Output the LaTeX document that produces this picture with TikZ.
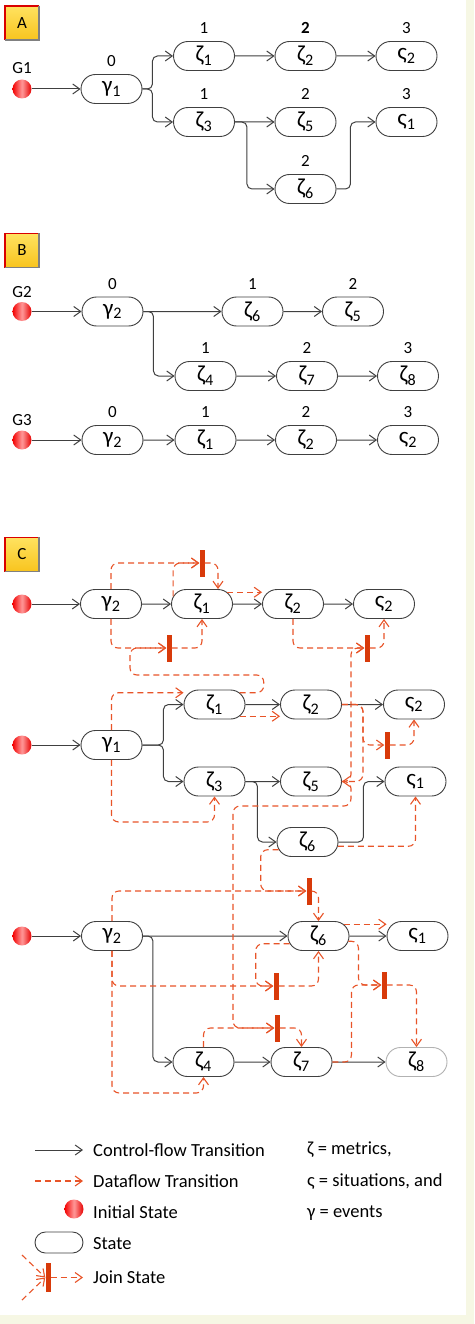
\documentclass[tikz,border=0pt]{standalone}
\usepackage{fontspec}
\setmainfont{Carlito}
\usetikzlibrary{arrows.meta,shapes.misc}

\definecolor{dfcol}{RGB}{232,84,40}
\definecolor{joincol}{RGB}{216,58,10}
\definecolor{framecol}{RGB}{246,247,228}
\definecolor{linecol}{RGB}{64,64,64}

\newcommand{\metr}[1]{ζ\textsubscript{#1}}
\newcommand{\situ}[1]{ς\textsubscript{#1}}
\newcommand{\evnt}[1]{γ\textsubscript{#1}}

\tikzset{
  statebox/.style={rounded rectangle, draw=black!75, line width=0.9pt, fill=white,
    minimum width=61pt, minimum height=29pt, inner sep=0pt, font=\fontsize{23}{24}\selectfont},
  initdot/.style={circle, minimum size=19pt, inner sep=0pt,
    left color=red!95!black, right color=red!90!black, middle color=red!40!white},
  lvl/.style={inner sep=0pt, font=\fontsize{17}{18}\selectfont},
  legtext/.style={anchor=west, inner sep=0pt, font=\fontsize{18.5}{20}\selectfont},
  cflow/.style={draw=linecol, line width=1pt, -{Straight Barb[length=7pt,width=10pt]}, rounded corners=5pt},
  dflow/.style={draw=dfcol, line width=1.1pt, dash pattern=on 6pt off 4pt,
    -{Straight Barb[length=7pt,width=10pt]}, rounded corners=7pt},
  joinbar/.style={rectangle, fill=joincol, minimum width=5pt, minimum height=27pt, inner sep=0pt},
  badge/.style={rectangle, minimum size=34pt, inner sep=0pt,
    top color={rgb,255:red,255;green,226;blue,96}, bottom color={rgb,255:red,248;green,196;blue,30},
    font=\fontsize{17}{18}\selectfont}
}

\begin{document}
\begin{tikzpicture}[x=1pt,y=-1pt,label distance=7pt]
  \useasboundingbox (0,0) rectangle (474,1324);
  \fill[framecol] (0,0) rectangle (474,1324);
  \fill[white] (0,0) rectangle (466,1315);

  % Etichette dei pannelli
  \foreach \lt/\yy in {A/23,B/250.5,C/554.5}{
    \node[badge] (badge\lt) at (22,\yy) {\lt};
    \draw[red!85!black,line width=1.5pt] (badge\lt.south west) -- (badge\lt.north west) -- (badge\lt.north east);
    \draw[gray,line width=1.5pt] (badge\lt.north east) -- (badge\lt.south east) -- (badge\lt.south west);
  }

  % Pannello A: G1
  \node[lvl] (g1name) at (22,68) {G1};
  \node[initdot] (a0) at (22,89) {};
  \node[statebox,label={[lvl]above:0}] (ag) at (111.5,89) {\evnt{1}};
  \node[statebox,label={[lvl]above:1}] (az1) at (204,56) {\metr{1}};
  \node[statebox,label={[lvl,font=\fontsize{17}{18}\selectfont\bfseries]above:2}] (az2) at (305.5,56) {\metr{2}};
  \node[statebox,label={[lvl]above:3}] (as2) at (406.5,56) {\situ{2}};
  \node[statebox,label={[lvl]above:1}] (az3) at (204,122) {\metr{3}};
  \node[statebox,label={[lvl]above:2}] (az5) at (305.5,122) {\metr{5}};
  \node[statebox,label={[lvl]above:3}] (as1) at (406.5,122) {\situ{1}};
  \node[statebox,label={[lvl]above:2}] (az6) at (305.5,189) {\metr{6}};

  \draw[cflow] (a0) -- (ag);
  \draw[cflow] (ag.east) -- ++(10,0) |- (az1.west);
  \draw[cflow] (ag.east) -- ++(10,0) |- (az3.west);
  \draw[cflow] (az1) -- (az2);
  \draw[cflow] (az2) -- (as2);
  \draw[cflow] (az3) -- (az5);
  \draw[cflow] (az3.east) -- ++(12,0) |- (az6.west);
  \draw[cflow] (az6.east) -- ++(14,0) |- (as1.west);

  % Pannello B: G2 e G3
  \node[lvl] (g2name) at (22,292) {G2};
  \node[initdot] (b0) at (22,311.5) {};
  \node[statebox,label={[lvl]above:0}] (bg) at (112.5,311.5) {\evnt{2}};
  \node[statebox,label={[lvl]above:1}] (bz6) at (252.5,311.5) {\metr{6}};
  \node[statebox,label={[lvl]above:2}] (bz5) at (353,311.5) {\metr{5}};
  \node[statebox,label={[lvl]above:1}] (bz4) at (205.5,376) {\metr{4}};
  \node[statebox,label={[lvl]above:2}] (bz7) at (307,376) {\metr{7}};
  \node[statebox,label={[lvl]above:3}] (bz8) at (408,376) {\metr{8}};

  \draw[cflow] (b0) -- (bg);
  \draw[cflow] (bg) -- (bz6);
  \draw[cflow] (bg.east) -- ++(10,0) |- (bz4.west);
  \draw[cflow] (bz6) -- (bz5);
  \draw[cflow] (bz4) -- (bz7);
  \draw[cflow] (bz7) -- (bz8);

  \node[lvl] (g3name) at (22,420) {G3};
  \node[initdot] (c0) at (22,440) {};
  \node[statebox,label={[lvl]above:0}] (cg) at (112.5,440) {\evnt{2}};
  \node[statebox,label={[lvl]above:1}] (cz1) at (205.5,440) {\metr{1}};
  \node[statebox,label={[lvl]above:2}] (cz2) at (306,440) {\metr{2}};
  \node[statebox,label={[lvl]above:3}] (cs2) at (408,440) {\situ{2}};

  \draw[cflow] (c0) -- (cg);
  \draw[cflow] (cg) -- (cz1);
  \draw[cflow] (cz1) -- (cz2);
  \draw[cflow] (cz2) -- (cs2);

  % Pannello C: grafo unito
  \node[initdot] (p0) at (22,604) {};
  \node[statebox] (pg) at (111,604) {\evnt{2}};
  \node[statebox] (pz1) at (202,604) {\metr{1}};
  \node[statebox] (pz2) at (293,604) {\metr{2}};
  \node[statebox] (ps2) at (384,604) {\situ{2}};

  \node[initdot] (q0) at (22,745) {};
  \node[statebox] (qg) at (111.5,745) {\evnt{1}};
  \node[statebox] (qz1) at (214.5,704.5) {\metr{1}};
  \node[statebox] (qz2) at (311,704.5) {\metr{2}};
  \node[statebox] (qs2) at (414,704.5) {\situ{2}};
  \node[statebox] (qz3) at (214.5,781.5) {\metr{3}};
  \node[statebox] (qz5) at (311,781.5) {\metr{5}};
  \node[statebox] (qs1) at (415.5,781.5) {\situ{1}};
  \node[statebox] (qz6) at (307.5,842) {\metr{6}};

  \node[initdot] (r0) at (22,936) {};
  \node[statebox] (rg) at (112,936) {\evnt{2}};
  \node[statebox] (rz6) at (318.5,936) {\metr{6}};
  \node[statebox] (rs1) at (417.5,936) {\situ{1}};
  \node[statebox] (rz4) at (203.5,1062) {\metr{4}};
  \node[statebox] (rz7) at (301.5,1062) {\metr{7}};
  \node[statebox,draw=black!30] (rz8) at (416.5,1062) {\metr{8}};

  % Stati di join
  \node[joinbar] (j1) at (202,563) {};
  \node[joinbar] (j2) at (169,648) {};
  \node[joinbar] (j3) at (367,648) {};
  \node[joinbar] (j4) at (387,745) {};
  \node[joinbar] (j5) at (309,891) {};
  \node[joinbar] (j6) at (276,986) {};
  \node[joinbar] (j7) at (277,1028) {};
  \node[joinbar] (j8) at (384,985) {};

  % Transizioni di controllo
  \draw[cflow] (p0) -- (pg);
  \draw[cflow] (pg) -- (pz1);
  \draw[cflow] (pz1) -- (pz2);
  \draw[cflow] (pz2) -- (ps2);

  \draw[cflow] (q0) -- (qg);
  \draw[cflow] (qg.east) -- ++(21,0) |- (qz1.west);
  \draw[cflow] (qg.east) -- ++(21,0) |- (qz3.west);
  \draw[cflow] (qz1) -- (qz2);
  \draw[cflow] (qz2) -- (qs2);
  \draw[cflow] (qz3) -- (qz5);
  \draw[cflow] (qz3.east) -- ++(12,0) |- (qz6.west);
  \draw[cflow] (qz6.east) -- ++(25,0) |- (qs1.west);

  \draw[cflow] (r0) -- (rg);
  \draw[cflow] (rg) -- (rz6);
  \draw[cflow] (rg.east) -- ++(10,0) |- (rz4.west);
  \draw[cflow] (rz6) -- (rs1);
  \draw[cflow] (rz4) -- (rz7);
  \draw[cflow] (rz7) -- (rz8);

  % Transizioni di dati, riga 1
  \draw[dflow] (pg.north) |- (j1.west);
  \draw[dflow] (pz1.165) |- (j1.west);
  \draw[dflow] (j1.east) -| (pz1.north east);
  \draw[dflow] (pz1.25) -- (pz2.west |- pz1.25);
  \draw[dflow] (pg.south) |- (j2.west);
  \draw[dflow] (qz1.25) -- ++(24,0) |- (130,675) |- (j2.west);
  \draw[dflow] (j2.east) -| (pz1.south);
  \draw[dflow] (pz2.south) |- (j3.west);
  \draw[dflow] (qz5.east) -- ++(9,0) |- (j3.west);
  \draw[dflow] (j3.east) -| (ps2.south);

  % Transizioni di dati, riga 2
  \draw[dflow] (qg.north) |- (qz1.west |- qz1.155);
  \draw[dflow] (qg.south) -- ++(0,62) -| (qz3.south);
  \draw[dflow] (qz1.-25) -- (qz2.west |- qz1.-25);
  \draw[dflow] (qz2.east) -- ++(21,0) |- (j4.west);
  \draw[dflow] (qz2.east) -- ++(21,0) |- (qz5.east);
  \draw[dflow] (j4.east) -| (qs2.south);
  \draw[dflow] (qz5.east) -- ++(9,0) |- (233,806) |- (j7.west);
  \draw[dflow] (qz6.-8) -| (qs1.south);
  \draw[dflow] (qz6.195) -- ++(-18,0) |- (j5.west);

  % Transizioni di dati, riga 3
  \draw[dflow] (rg.north) |- (j5.west);
  \draw[dflow] (j5.east) -| (rz6.north);
  \draw[dflow] (rz6.25) -- (rs1.west |- rz6.25);
  \draw[dflow] (rz6.195) -- ++(-34,0) |- (j6.west);
  \draw[dflow] (rg.south) |- (j6.west);
  \draw[dflow] (j6.east) -| (rz6.south);
  \draw[dflow] (rg.south) -- ++(0,142) -| (rz4.south);
  \draw[dflow] (rz4.north) |- (j7.west);
  \draw[dflow] (j7.east) -| (rz7.north);
  \draw[dflow] (rz7.east) -- ++(19,0) |- (j8.west);
  \draw[dflow] (rz6.-10) -- ++(10,0) |- (j8.west);
  \draw[dflow] (j8.east) -| (rz8.north);

  % Legenda
  \coordinate (lc1) at (35,1150);
  \coordinate (lc2) at (83,1150);
  \coordinate (ld1) at (35,1181);
  \coordinate (ld2) at (83,1181);
  \draw[cflow] (lc1) -- (lc2);
  \draw[dflow] (ld1) -- (ld2);
  \node[initdot] (ldot) at (74,1209) {};
  \node[statebox,minimum width=48pt,minimum height=21pt] (lstate) at (59,1242.5) {};
  \node[joinbar,minimum height=29pt] (ljoin) at (48,1277.5) {};
  \coordinate (lj1) at (22,1255);
  \coordinate (lj2) at (22,1300);
  \coordinate (lj3) at (83,1277.5);
  \draw[dflow] (lj1) -- (ljoin.west);
  \draw[dflow] (lj2) -- (ljoin.west);
  \draw[dflow] (ljoin.east) -- (lj3);

  \node[legtext] (tcf) at (93,1150) {Control-flow Transition};
  \node[legtext] (tdf) at (93,1181) {Dataflow Transition};
  \node[legtext] (tin) at (93,1212) {Initial State};
  \node[legtext] (tst) at (93,1244) {State};
  \node[legtext] (tjn) at (93,1277) {Join State};
  \node[legtext] (kz) at (307,1150) {ζ = metrics,};
  \node[legtext] (ks) at (307,1182) {ς = situations, and};
  \node[legtext] (kg) at (307,1213) {γ = events};
\end{tikzpicture}
\end{document}
